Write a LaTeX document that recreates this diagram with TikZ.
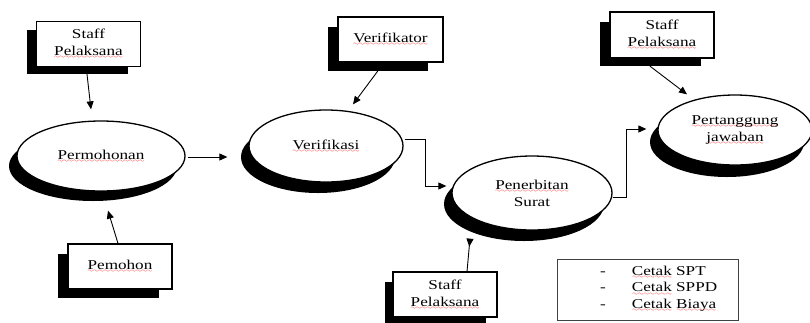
\documentclass[tikz,border=0pt]{standalone}
\usepackage{fontspec}
\setmainfont{Liberation Serif}[FakeStretch=1.27]
\usetikzlibrary{arrows.meta,calc,shapes.geometric}
% red spell-check style wavy underline, built from the lasy wave glyph
\font\wavefont=lasy6
\newcommand\redwave[1]{\setbox0\hbox{#1}\rlap{\textcolor{red}{\lower3.2pt\hbox to\wd0{\xleaders\hbox{\wavefont\char58}\hfill}}}\box0\relax}
\tikzset{
  txt/.style={font=\fontsize{13.5}{17}\selectfont, align=center},
  wbox/.style={txt, draw, line width=1.1pt, fill=white, minimum width=104pt, minimum height=45pt, inner sep=0pt},
  sbox/.style={fill=black, minimum width=101pt, minimum height=44pt, inner sep=0pt},
  proc/.style={txt, ellipse, draw, line width=1.3pt, fill=white, inner sep=0pt},
  eshadow/.style={ellipse, fill=black, inner sep=0pt},
  arr/.style={-{Triangle[length=8pt,width=7pt]}, line width=0.9pt},
  rarr/.style={-{Triangle[length=8pt,width=7pt,reversed]}, line width=0.9pt}
}
\begin{document}
\begin{tikzpicture}[x=1pt,y=-1pt]
\useasboundingbox (0,0) rectangle (810,322);

% process ellipses with their offset shadows
\node[eshadow, minimum width=168pt, minimum height=70pt] (permS) at (93,166) {};
\node[proc, minimum width=168pt, minimum height=70pt] (perm) at (101,156) {\redwave{Permohonan}};

\node[eshadow, minimum width=154pt, minimum height=72pt] (verifS) at (318,157) {};
\node[proc, minimum width=154pt, minimum height=72pt] (verif) at (326,146) {\redwave{Verifikasi}};

\node[eshadow, minimum width=160pt, minimum height=74pt] (penS) at (524,204) {};
\node[proc, minimum width=160pt, minimum height=74pt] (pen) at (532,193) {\redwave{Penerbitan}\\Surat};

\node[eshadow, minimum width=154pt, minimum height=70pt] (pertS) at (727,142) {};
\node[proc, minimum width=154pt, minimum height=70pt] (pert) at (735,130) {\redwave{Pertanggung}\\\redwave{jawaban}};

% actor boxes with their offset shadows
\node[sbox] (b1S) at (77,52) {};
\node[wbox] (b1) at (88.5,44) {Staff\\\redwave{Pelaksana}};

\node[sbox] (b2S) at (108,275.5) {};
\node[wbox] (b2) at (120,266.5) {\redwave{Pemohon}};

\node[sbox, minimum width=100pt] (b3S) at (378,48.5) {};
\node[wbox, minimum width=105pt] (b3) at (390.5,39.5) {\redwave{Verifikator}};

\node[sbox] (b4S) at (435,303.5) {};
\node[wbox] (b4) at (445,294.5) {Staff\\\redwave{Pelaksana}};

\node[sbox] (b5S) at (650,44) {};
\node[wbox, minimum height=46pt] (b5) at (662,35) {Staff\\\redwave{Pelaksana}};

% output list
\node[draw=black!75, line width=0.9pt, minimum width=181pt, minimum height=61pt] (leg) at (647.5,289.5) {};
\node[txt, anchor=west, inner sep=0pt, font=\fontsize{13.5}{16.5}\selectfont] (legtxt) at (600,288.5)
  {\begin{tabular}{@{}l@{\hspace{26pt}}l@{}}
   - & \redwave{Cetak} SPT\\
   - & \redwave{Cetak} SPPD\\
   - & \redwave{Cetak} \redwave{Biaya}
   \end{tabular}};

% connectors
\draw[arr] ($(b1S.south)+(10,0)$) -- ($(perm.north)+(-10,-11)$);
\draw[arr] ($(b2.north)+(-2,0)$) -- ($(perm.south)+(7,19)$);
\draw[arr] ($(perm.east)+(2,1)$) -- ($(verif.west)+(-21,11)$);
\draw[arr] (b3S.south) -- ($(verif.north)+(27,-5)$);
\draw[arr] ($(verif.east)+(1,-7)$) -- ++(21,0) |- ($(pen.west)+(-5,-7)$);
\draw[rarr] ($(b4.north)+(22,0)$) -- ($(pen.south)+(-62,8)$);
\draw[arr] ($(pen.east)+(0,4)$) -- ++(14,0) |- ($(pert.west)+(-11,-1)$);
\draw[arr] (b5S.south) -- ($(pert.north)+(-48,0)$);
\end{tikzpicture}
\end{document}
